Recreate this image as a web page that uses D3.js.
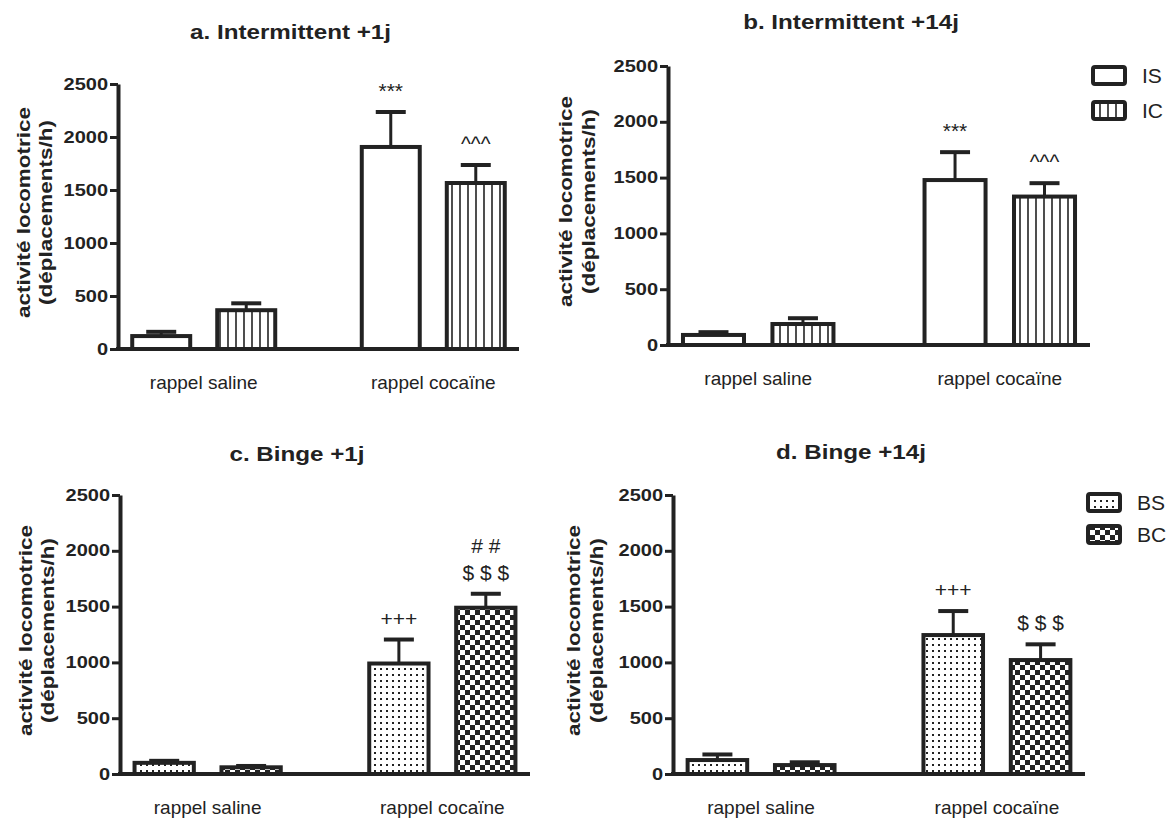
<!DOCTYPE html>
<html lang="fr">
<head>
<meta charset="utf-8">
<title>Activité locomotrice</title>
<script src="https://d3js.org/d3.v7.min.js"></script>
<style>
  body { margin: 0; background: #fff; }
  svg text { font-family: "Liberation Sans", Arial, sans-serif; fill: #222; }
  .title, .ylab, .tick text { font-weight: bold; }
</style>
</head>
<body>
<svg width="1168" height="821"></svg>
<script>
  // ---- data ----
  var categories = ["rappel saline", "rappel cocaïne"];
  var yTicks = [0, 500, 1000, 1500, 2000, 2500];
  var seriesI = ["IS", "IC"];
  var seriesB = ["BS", "BC"];

  // a. Intermittent +1j
  var a_IS = [122, 1906], a_IS_sem = [40, 330], a_IS_sig = [[], ["***"]];
  var a_IC = [366, 1566], a_IC_sem = [65, 170], a_IC_sig = [[], ["^^^"]];
  // b. Intermittent +14j
  var b_IS = [90, 1478], b_IS_sem = [25, 250], b_IS_sig = [[], ["***"]];
  var b_IC = [188, 1330], b_IC_sem = [52, 120], b_IC_sig = [[], ["^^^"]];
  // c. Binge +1j
  var c_BS = [100, 990], c_BS_sem = [18, 215], c_BS_sig = [[], ["+++"]];
  var c_BC = [60, 1490], c_BC_sem = [12, 125], c_BC_sig = [[], ["$ $ $", "# #"]];
  // d. Binge +14j
  var d_BS = [125, 1245], d_BS_sem = [50, 215], d_BS_sig = [[], ["+++"]];
  var d_BC = [80, 1021], d_BC_sem = [25, 141], d_BC_sig = [[], ["$ $ $"]];

  // ---- layout ----
  var panels = [
    {title: "a. Intermittent +1j", series: seriesI, means: [a_IS, a_IC], sems: [a_IS_sem, a_IC_sem], sigs: [a_IS_sig, a_IC_sig],
     x0: 118, len: 401, top: 84, zero: 349, titleY: 39, yl: [30, 52]},
    {title: "b. Intermittent +14j", series: seriesI, means: [b_IS, b_IC], sems: [b_IS_sem, b_IC_sem], sigs: [b_IS_sig, b_IC_sig],
     x0: 668, len: 422, top: 66, zero: 345, titleY: 29, yl: [572, 595], legend: {x: 1093, y: 67, dy: 35}},
    {title: "c. Binge +1j", series: seriesB, means: [c_BS, c_BC], sems: [c_BS_sem, c_BC_sem], sigs: [c_BS_sig, c_BC_sig],
     x0: 120, len: 410, top: 495, zero: 774, titleY: 461, yl: [32, 54]},
    {title: "d. Binge +14j", series: seriesB, means: [d_BS, d_BC], sems: [d_BS_sem, d_BC_sem], sigs: [d_BS_sig, d_BC_sig],
     x0: 673, len: 412, top: 495, zero: 774, titleY: 459, yl: [580, 603], legend: {x: 1088, y: 494, dy: 32}}
  ];

  var ink = "#222";
  var BOLD_SX = 1.25;   // bold text in the figure is drawn wider than Arial

  var svg = d3.select("svg");
  var defs = svg.append("defs");

  // vertical hatching (IC)
  var pIC = defs.append("pattern").attr("id", "p-IC").attr("patternUnits", "userSpaceOnUse")
    .attr("width", 8).attr("height", 10);
  pIC.append("rect").attr("width", 8).attr("height", 10).attr("fill", "#fff");
  pIC.append("line").attr("x1", 4).attr("x2", 4).attr("y1", 0).attr("y2", 10)
    .attr("stroke", ink).attr("stroke-width", 1.6);

  // dots (BS)
  var pBS = defs.append("pattern").attr("id", "p-BS").attr("patternUnits", "userSpaceOnUse")
    .attr("width", 6).attr("height", 6);
  pBS.append("rect").attr("width", 6).attr("height", 6).attr("fill", "#fff");
  pBS.append("rect").attr("x", 2).attr("y", 2).attr("width", 2).attr("height", 2).attr("fill", ink);

  // checkerboard (BC)
  var pBC = defs.append("pattern").attr("id", "p-BC").attr("patternUnits", "userSpaceOnUse")
    .attr("width", 10).attr("height", 10);
  pBC.append("rect").attr("width", 10).attr("height", 10).attr("fill", ink);
  pBC.append("rect").attr("width", 5).attr("height", 5).attr("fill", "#fff");
  pBC.append("rect").attr("x", 5).attr("y", 5).attr("width", 5).attr("height", 5).attr("fill", "#fff");

  var fills = {IS: "#fff", IC: "url(#p-IC)", BS: "url(#p-BS)", BC: "url(#p-BC)"};

  function wideText(g, x, y, str, rot, sx) {
    return g.append("text")
      .attr("transform", "translate(" + x + "," + y + ")" + (rot ? " rotate(" + rot + ")" : "") + " scale(" + (sx || BOLD_SX) + ",1)")
      .text(str);
  }

  panels.forEach(function(p) {
    var g = svg.append("g");

    var x = d3.scaleBand().domain(categories).range([p.x0, p.x0 + p.len])
      .paddingInner(0.377).paddingOuter(0.062);
    var xs = d3.scaleBand().domain(p.series).range([0, x.bandwidth()]).paddingInner(0.318);
    var y = d3.scaleLinear().domain([0, 2500]).range([p.zero, p.top]);

    var rows = [];
    p.series.forEach(function(s, si) {
      categories.forEach(function(c, ci) {
        rows.push({s: s, c: c, m: p.means[si][ci], e: p.sems[si][ci], sig: p.sigs[si][ci]});
      });
    });

    // error bars (drawn first, bar outline sits on top)
    rows.forEach(function(d) {
      var cx = x(d.c) + xs(d.s) + xs.bandwidth() / 2;
      g.append("line").attr("x1", cx).attr("x2", cx).attr("y1", y(d.m)).attr("y2", y(d.m + d.e))
        .attr("stroke", ink).attr("stroke-width", 3);
      g.append("line").attr("x1", cx - 15).attr("x2", cx + 15).attr("y1", y(d.m + d.e)).attr("y2", y(d.m + d.e))
        .attr("stroke", ink).attr("stroke-width", 4);
      d.sig.forEach(function(t, k) {
        g.append("text").attr("x", cx).attr("y", y(d.m + d.e) - 14 - k * 27)
          .attr("text-anchor", "middle").attr("font-size", 21).text(t);
      });
    });

    // bars
    g.selectAll("rect.bar").data(rows).enter().append("rect")
      .attr("class", "bar")
      .attr("x", function(d) { return x(d.c) + xs(d.s); })
      .attr("y", function(d) { return y(d.m); })
      .attr("width", xs.bandwidth())
      .attr("height", function(d) { return p.zero - y(d.m); })
      .attr("fill", function(d) { return fills[d.s]; })
      .attr("stroke", ink).attr("stroke-width", 4);

    // y axis
    var ax = g.append("g").attr("transform", "translate(" + p.x0 + ",0)")
      .call(d3.axisLeft(y).tickValues(yTicks).tickSize(8).tickSizeOuter(0).tickFormat(d3.format("d")));
    ax.attr("font-size", null).attr("font-family", null);
    ax.select(".domain").attr("stroke", ink).attr("stroke-width", 4);
    ax.selectAll(".tick line").attr("stroke", ink).attr("stroke-width", 3);
    ax.selectAll(".tick text").attr("font-size", 16).attr("fill", ink)
      .attr("x", -10 / BOLD_SX).attr("transform", "scale(" + BOLD_SX + ",1)");

    // x axis line
    g.append("line").attr("x1", p.x0 - 2).attr("x2", p.x0 + p.len).attr("y1", p.zero).attr("y2", p.zero)
      .attr("stroke", ink).attr("stroke-width", 4);

    // category labels
    categories.forEach(function(c) {
      g.append("text").attr("x", x(c) + x.bandwidth() / 2).attr("y", p.zero + 40)
        .attr("text-anchor", "middle").attr("font-size", 19).text(c);
    });

    // title
    wideText(g, p.x0 + p.len / 2 - 28, p.titleY, p.title, 0, 1.21)
      .attr("class", "title").attr("text-anchor", "middle").attr("font-size", 20);

    // y label, two lines
    var my = (p.top + p.zero) / 2 - 4;
    wideText(g, p.yl[0], my, "activité locomotrice", -90)
      .attr("class", "ylab").attr("text-anchor", "middle").attr("font-size", 18);
    wideText(g, p.yl[1], my, "(déplacements/h)", -90)
      .attr("class", "ylab").attr("text-anchor", "middle").attr("font-size", 18);

    // legend
    if (p.legend) {
      p.series.forEach(function(s, si) {
        var ly = p.legend.y + si * p.legend.dy;
        g.append("rect").attr("x", p.legend.x).attr("y", ly).attr("width", 32).attr("height", 17)
          .attr("rx", 2).attr("fill", fills[s]).attr("stroke", ink).attr("stroke-width", 4);
        g.append("text").attr("x", p.legend.x + 49).attr("y", ly + 16)
          .attr("font-size", 21).text(s);
      });
    }
  });
</script>
</body>
</html>
